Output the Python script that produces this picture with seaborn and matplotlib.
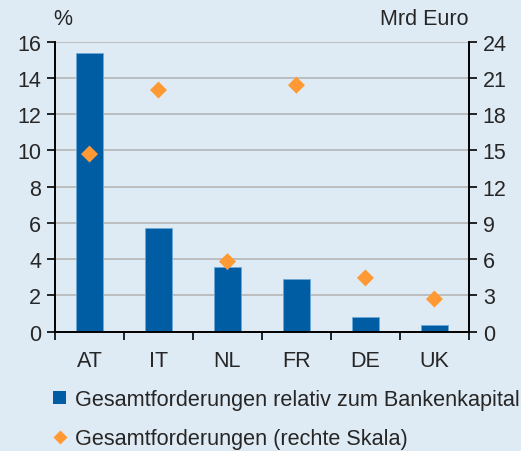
import matplotlib
matplotlib.use('Agg')
import matplotlib.pyplot as plt
import seaborn as sns
import pandas as pd
from matplotlib.lines import Line2D
from matplotlib.patches import Patch

countries = ['AT', 'IT', 'NL', 'FR', 'DE', 'UK']
ratio_pct = [15.4, 5.7, 3.55, 2.9, 0.8, 0.37]       # left axis, %
claims_bn = [14.7, 20.0, 5.8, 20.4, 4.45, 2.7]       # right axis, Mrd Euro

bg = '#DFEBF4'
bar_color = '#005DA3'
dot_color = '#FF9933'
fs = 15.5

sns.set_theme(style='white')
plt.rcParams['font.family'] = ['Liberation Sans', 'DejaVu Sans']

df = pd.DataFrame({'land': countries, 'ratio': ratio_pct, 'claims': claims_bn})

fig = plt.figure(figsize=(5.21, 4.52), dpi=100, facecolor=bg)
ax = fig.add_axes([0.1056, 0.264, 0.7944, 0.6415])
ax.set_facecolor(bg)

sns.barplot(data=df, x='land', y='ratio', color=bar_color, width=0.4,
            saturation=1, ax=ax, zorder=2, edgecolor='#6fa8d6', linewidth=0.6)
ax.set_ylim(0, 16)
ax.set_yticks(range(0, 17, 2))
ax.set_xlim(-0.5, 5.5)
ax.grid(axis='y', color='#b5b5b5', linewidth=1.2, zorder=0)
ax.set_axisbelow(True)

ax2 = ax.twinx()
sns.scatterplot(data=df, x='land', y='claims', marker='D', s=75, color=dot_color,
                edgecolor='none', ax=ax2, zorder=3)
ax2.set_ylim(0, 24)
ax2.set_yticks(range(0, 25, 3))
ax2.set_xlim(-0.5, 5.5)

for a in (ax, ax2):
    a.set_xlabel('')
    a.set_ylabel('')
    a.spines['top'].set_visible(False)
    for s in ('left', 'right', 'bottom'):
        a.spines[s].set_color('black')
        a.spines[s].set_linewidth(1.2)

ax.tick_params(axis='y', which='major', direction='out', length=6, width=1.2,
               color='black', labelsize=fs, pad=4, left=True)
ax2.tick_params(axis='y', which='major', direction='out', length=6, width=1.2,
                color='black', labelsize=fs, pad=4, right=True)
ax.set_xticks(range(len(countries)))
ax.set_xticklabels(countries)
ax.set_xticks([i - 0.5 for i in range(len(countries) + 1)], minor=True)
ax.tick_params(axis='x', which='major', length=0, labelsize=fs, pad=13)
ax.tick_params(axis='x', which='minor', direction='out', length=6, width=1.2,
               color='black', bottom=True)

fig.text(0.103, 0.957, '%', fontsize=fs, ha='left', va='center')
fig.text(0.9, 0.957, 'Mrd Euro', fontsize=fs, ha='right', va='center')

handles = [Patch(facecolor=bar_color, edgecolor='none'),
           Line2D([], [], marker='D', color='none', markerfacecolor=dot_color,
                  markeredgecolor='none', markersize=7)]
labels = ['Gesamtforderungen relativ zum Bankenkapital',
          'Gesamtforderungen (rechte Skala)']
fig.legend(handles, labels, loc='upper left', bbox_to_anchor=(0.086, 0.156),
           frameon=False, fontsize=15.6, handlelength=0.6, handleheight=0.6,
           handletextpad=0.4, labelspacing=0.82, borderaxespad=0)

fig.savefig('out.png', dpi=100, facecolor=bg)
